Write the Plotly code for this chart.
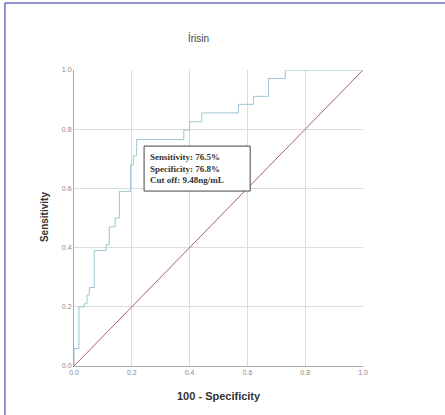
import plotly.graph_objects as go

# ROC curve (1 - specificity, sensitivity)
fpr = [0.0, 0.0, 0.017, 0.017, 0.035, 0.035, 0.045, 0.045, 0.053, 0.053, 0.07, 0.07,
       0.111, 0.111, 0.122, 0.122, 0.142, 0.142, 0.157, 0.157, 0.196, 0.196, 0.205, 0.205,
       0.217, 0.217, 0.38, 0.38, 0.40, 0.40, 0.442, 0.442, 0.569, 0.569, 0.621, 0.621,
       0.673, 0.673, 0.731, 0.731, 1.0]
tpr = [0.0, 0.059, 0.059, 0.2, 0.2, 0.21, 0.21, 0.24, 0.24, 0.265, 0.265, 0.39,
       0.39, 0.41, 0.41, 0.47, 0.47, 0.5, 0.5, 0.59, 0.59, 0.68, 0.68, 0.71,
       0.71, 0.765, 0.765, 0.797, 0.797, 0.825, 0.825, 0.855, 0.855, 0.884, 0.884, 0.911,
       0.911, 0.971, 0.971, 1.0, 1.0]
ref_x = [0.0, 1.0]
ref_y = [0.0, 1.0]
tick_vals = [0.0, 0.2, 0.4, 0.6, 0.8, 1.0]
tick_text = ["0.0", "0.2", "0.4", "0.6", "0.8", "1.0"]
box_lines = ["Sensitivity: 76.5%", "Specificity: 76.8%", "Cut off: 9.48ng/mL"]

fig = go.Figure()
fig.add_trace(go.Scatter(x=ref_x, y=ref_y, mode="lines",
                         line=dict(color="#a8606e", width=1), hoverinfo="skip"))
fig.add_trace(go.Scatter(x=fpr, y=tpr, mode="lines",
                         line=dict(color="#9cc6d2", width=1), hoverinfo="skip"))

axis_common = dict(range=[0, 1], tickvals=tick_vals, ticktext=tick_text,
                   showgrid=True, gridcolor="#dcdcdc", gridwidth=1.2,
                   zeroline=False, showline=True, linecolor="#aaaaaa", linewidth=1,
                   tickfont=dict(family="Arial", size=7, color="#888888"),
                   ticks="", fixedrange=True)

fig.update_layout(
    width=445, height=415,
    margin=dict(l=74, r=82, t=70, b=49, pad=0),
    plot_bgcolor="white", paper_bgcolor="white",
    showlegend=False,
    xaxis=dict(**axis_common),
    yaxis=dict(**axis_common),
)

# annotation box
fig.add_shape(type="rect", xref="x", yref="y", x0=0.2425, x1=0.6096, y0=0.591, y1=0.743,
              line=dict(color="#444444", width=1), fillcolor="white", layer="above")
fig.add_annotation(xref="x", yref="y", x=0.255, y=0.667, xanchor="left", yanchor="middle",
                   text="<br>".join("<b>" + s + "</b>" for s in box_lines), showarrow=False,
                   align="left", font=dict(family="Liberation Serif", size=9, color="#333333"))

# title and axis labels
fig.add_annotation(xref="paper", yref="paper", x=0.43, y=1.108, xanchor="center", yanchor="middle",
                   text="İrisin", showarrow=False,
                   font=dict(family="Arial", size=10, color="#444444"))
fig.add_annotation(xref="paper", yref="paper", x=0.5, y=-0.1025, xanchor="center", yanchor="middle",
                   text="<b>100 - Specificity</b>", showarrow=False,
                   font=dict(family="Arial", size=11, color="#333333"))
fig.add_annotation(xref="paper", yref="paper", x=-0.104, y=0.503, xanchor="center", yanchor="middle",
                   text="<b>Sensitivity</b>", textangle=-90, showarrow=False,
                   font=dict(family="Arial", size=10, color="#333333"))

# outer frame lines (left and top)
fig.add_shape(type="line", xref="paper", yref="paper", x0=-0.239, x1=-0.239, y0=-0.2, y1=1.2266,
              line=dict(color="#6c6cc4", width=1.5))
fig.add_shape(type="line", xref="paper", yref="paper", x0=-0.239, x1=1.3, y0=1.2266, y1=1.2266,
              line=dict(color="#6c6cc4", width=1.5))

fig.write_html("out.html")
